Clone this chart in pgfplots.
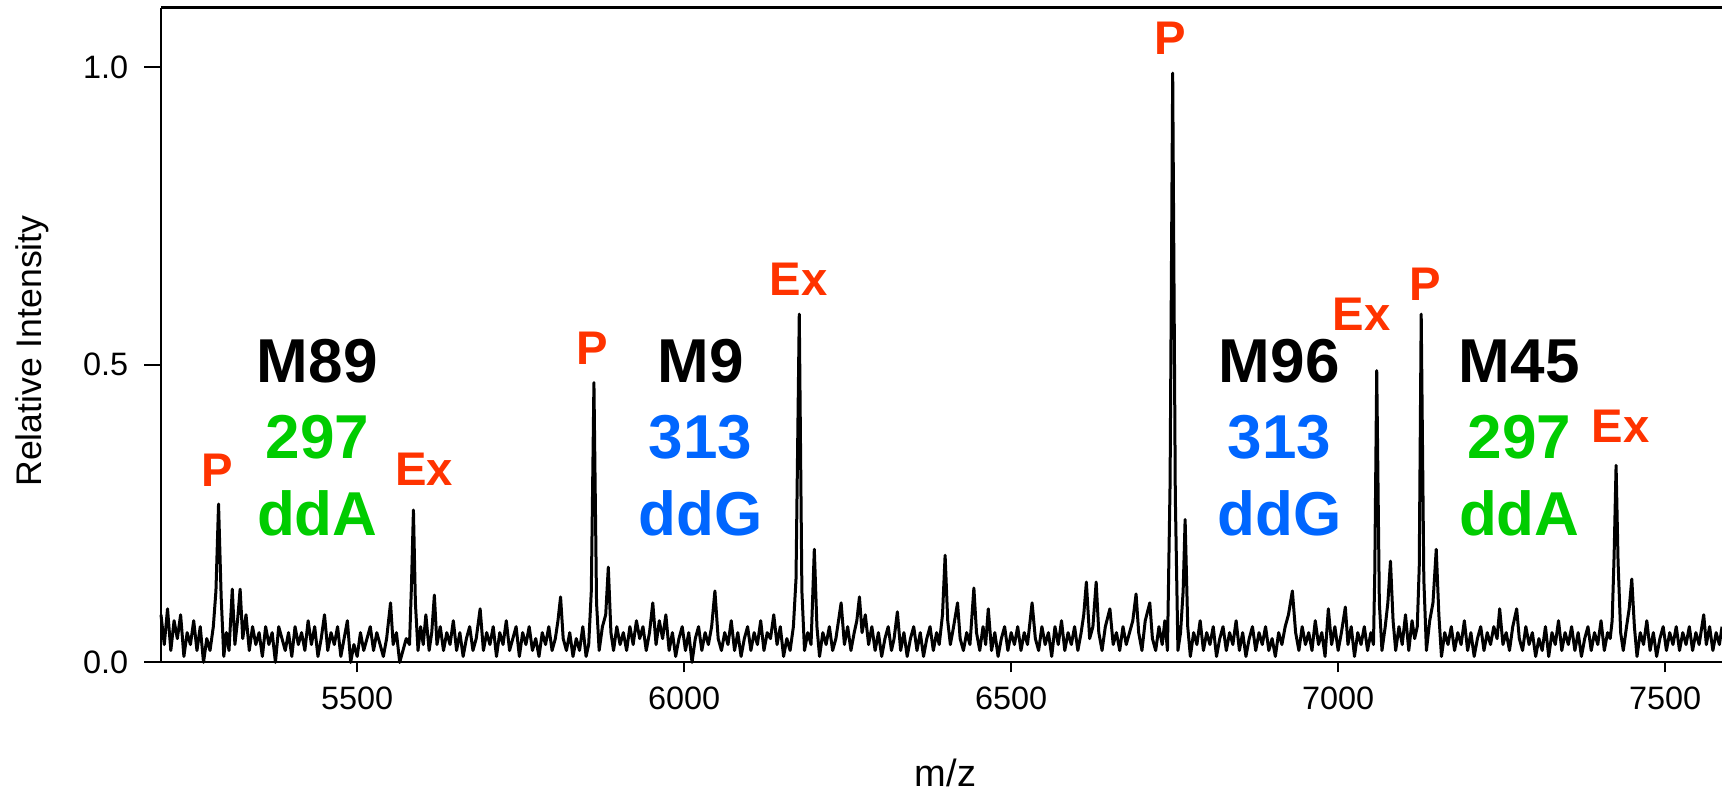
\documentclass[border=0pt]{standalone}
\usepackage{fontspec}
\setmainfont{Liberation Sans}
\usepackage{pgfplots}
\pgfplotsset{compat=1.18}
\definecolor{lblred}{RGB}{255,51,0}
\definecolor{lblgreen}{RGB}{0,204,0}
\definecolor{lblblue}{RGB}{0,102,255}
\newcommand{\biglab}{\bfseries\fontsize{15.5}{16}\selectfont}
\newcommand{\pel}{\bfseries\fontsize{11.8}{12}\selectfont}
\begin{document}
\begin{tikzpicture}
\begin{axis}[
  width=390.25pt, height=163.7pt, scale only axis,
  xmin=5200, xmax=7587, ymin=0, ymax=1.1,
  axis lines*=left,
  axis line style={line width=0.55pt, black},
  clip=false,
  xtick={5500,6000,6500,7000,7500},
  xticklabels={5500,6000,6500,7000,7500},
  ytick={0,0.5,1},
  yticklabels={0.0,0.5,1.0},
  tick align=outside,
  major tick length=2.5pt,
  ytick style={draw=none},
  xtick style={line width=0.55pt, black},
  xticklabel style={font=\fontsize{8.1}{9}\selectfont, anchor=north},
  yticklabel style={font=\fontsize{8.1}{9}\selectfont, anchor=east, xshift=-2.2pt},
]
\addplot[black, line width=0.75pt, line join=round, mark=none] coordinates {
(5200,0.08)(5205,0.03)(5210,0.09)(5215,0.02)(5220,0.07)(5225,0.04)(5230,0.08)(5235,0.01)(5240,0.05)(5245,0.03)
(5250,0.07)(5255,0.02)(5260,0.06)(5265,0.00)(5270,0.04)(5275,0.02)(5280,0.06)
(5284,0.12)(5288,0.266)(5292,0.11)(5296,0.01)(5300,0.05)(5304,0.02)(5309,0.123)(5313,0.03)(5317,0.07)(5321,0.123)
(5325,0.04)(5330,0.08)(5335,0.02)(5340,0.06)(5345,0.03)(5350,0.05)(5355,0.01)(5360,0.06)(5365,0.03)(5370,0.05)
(5375,0.00)(5380,0.06)(5385,0.04)(5390,0.02)(5395,0.05)(5400,0.01)(5405,0.06)(5410,0.03)(5415,0.05)(5420,0.02)
(5425,0.07)(5430,0.03)(5435,0.06)(5440,0.01)(5445,0.04)(5450,0.08)(5455,0.02)(5460,0.05)(5465,0.03)(5470,0.06)
(5475,0.01)(5480,0.04)(5485,0.07)(5490,0.00)(5495,0.03)(5500,0.01)(5505,0.05)(5510,0.02)(5515,0.04)(5520,0.06)
(5525,0.02)(5530,0.05)(5535,0.03)(5540,0.01)(5545,0.04)(5551,0.10)(5555,0.03)(5560,0.05)(5565,0.00)(5570,0.02)
(5575,0.04)(5580,0.03)(5583,0.13)(5586,0.256)(5589,0.10)(5593,0.02)(5597,0.06)(5601,0.03)(5605,0.08)(5610,0.02)
(5614,0.05)(5618,0.113)(5622,0.03)(5627,0.06)(5632,0.02)(5637,0.05)(5642,0.03)(5647,0.07)(5652,0.02)(5657,0.05)
(5662,0.01)(5667,0.04)(5672,0.06)(5677,0.02)(5682,0.04)(5688,0.09)(5693,0.02)(5698,0.05)(5703,0.03)(5708,0.06)
(5713,0.01)(5718,0.05)(5723,0.03)(5728,0.07)(5733,0.02)(5738,0.04)(5743,0.06)(5748,0.01)(5753,0.05)(5758,0.03)
(5763,0.06)(5768,0.02)(5773,0.04)(5778,0.01)(5783,0.05)(5788,0.03)(5793,0.06)(5798,0.02)(5803,0.04)(5807,0.07)
(5811,0.11)(5815,0.04)(5820,0.02)(5825,0.05)(5830,0.01)(5835,0.04)(5840,0.02)(5845,0.06)(5850,0.01)(5854,0.03)
(5858,0.12)(5862,0.47)(5866,0.10)(5870,0.02)(5875,0.06)(5880,0.08)(5884,0.16)(5888,0.05)(5892,0.02)(5897,0.06)
(5902,0.03)(5907,0.05)(5912,0.02)(5917,0.06)(5922,0.03)(5927,0.07)(5932,0.04)(5937,0.06)(5942,0.02)(5947,0.05)
(5952,0.10)(5957,0.03)(5962,0.07)(5967,0.04)(5972,0.08)(5977,0.02)(5982,0.05)(5987,0.01)(5992,0.04)(5997,0.06)
(6002,0.02)(6007,0.05)(6012,0.00)(6017,0.04)(6022,0.06)(6027,0.02)(6032,0.05)(6037,0.03)(6042,0.06)(6047,0.12)
(6052,0.04)(6057,0.02)(6062,0.05)(6067,0.03)(6072,0.07)(6077,0.02)(6082,0.05)(6087,0.01)(6092,0.04)(6097,0.06)
(6102,0.02)(6107,0.05)(6112,0.03)(6117,0.07)(6122,0.02)(6127,0.05)(6132,0.04)(6137,0.08)(6142,0.03)(6147,0.06)
(6152,0.01)(6157,0.04)(6162,0.02)(6167,0.06)(6171,0.14)(6176,0.585)(6180,0.12)(6184,0.02)(6189,0.05)(6194,0.03)
(6199,0.19)(6203,0.06)(6207,0.01)(6212,0.05)(6217,0.03)(6222,0.06)(6227,0.02)(6232,0.04)(6236,0.07)(6240,0.10)
(6245,0.03)(6250,0.06)(6255,0.02)(6260,0.05)(6264,0.07)(6268,0.11)(6272,0.05)(6277,0.08)(6282,0.03)(6287,0.06)
(6292,0.02)(6297,0.05)(6302,0.01)(6307,0.04)(6312,0.06)(6317,0.02)(6321,0.04)(6326,0.085)(6331,0.02)(6336,0.05)
(6341,0.01)(6346,0.04)(6351,0.06)(6356,0.02)(6361,0.05)(6366,0.01)(6371,0.04)(6376,0.06)(6381,0.02)(6386,0.05)
(6390,0.03)(6395,0.08)(6399,0.18)(6403,0.07)(6407,0.03)(6412,0.06)(6418,0.10)(6422,0.04)(6427,0.02)(6432,0.05)
(6437,0.03)(6443,0.125)(6447,0.05)(6452,0.02)(6457,0.06)(6461,0.03)(6465,0.09)(6470,0.02)(6475,0.05)(6480,0.01)
(6485,0.04)(6490,0.06)(6495,0.02)(6500,0.05)(6505,0.03)(6510,0.06)(6515,0.02)(6520,0.05)(6525,0.03)(6532,0.10)
(6537,0.04)(6542,0.02)(6547,0.06)(6552,0.03)(6557,0.05)(6562,0.01)(6567,0.06)(6572,0.03)(6577,0.07)(6582,0.02)
(6587,0.05)(6592,0.03)(6597,0.06)(6602,0.02)(6607,0.05)(6611,0.08)(6615,0.135)(6620,0.04)(6625,0.06)(6630,0.135)
(6634,0.05)(6639,0.02)(6644,0.06)(6651,0.09)(6656,0.03)(6661,0.05)(6666,0.02)(6671,0.06)(6676,0.03)(6681,0.05)
(6686,0.07)(6691,0.115)(6695,0.05)(6700,0.02)(6705,0.07)(6712,0.10)(6716,0.04)(6721,0.02)(6726,0.06)(6731,0.03)
(6735,0.07)(6739,0.02)(6743,0.30)(6747,0.99)(6751,0.28)(6755,0.02)(6759,0.05)(6763,0.12)(6766,0.24)(6770,0.06)
(6774,0.01)(6779,0.05)(6784,0.03)(6789,0.07)(6794,0.02)(6799,0.05)(6804,0.03)(6809,0.06)(6814,0.01)(6819,0.04)
(6824,0.06)(6829,0.02)(6834,0.05)(6839,0.03)(6844,0.07)(6849,0.02)(6854,0.05)(6859,0.01)(6864,0.04)(6869,0.06)
(6874,0.02)(6879,0.05)(6884,0.03)(6889,0.06)(6894,0.02)(6899,0.04)(6904,0.01)(6909,0.05)(6914,0.03)(6919,0.06)
(6924,0.08)(6930,0.12)(6935,0.05)(6940,0.02)(6945,0.06)(6950,0.03)(6955,0.05)(6960,0.02)(6965,0.07)(6970,0.03)
(6975,0.05)(6980,0.01)(6985,0.09)(6990,0.03)(6995,0.06)(7000,0.02)(7005,0.05)(7011,0.093)(7015,0.03)(7020,0.06)
(7025,0.01)(7030,0.05)(7035,0.03)(7040,0.06)(7045,0.02)(7050,0.05)(7054,0.03)(7056,0.15)(7059,0.49)(7063,0.10)
(7067,0.02)(7072,0.06)(7076,0.10)(7080,0.17)(7084,0.07)(7088,0.02)(7093,0.06)(7098,0.03)(7103,0.08)(7108,0.02)
(7113,0.07)(7117,0.04)(7121,0.06)(7124,0.16)(7127,0.585)(7131,0.14)(7135,0.02)(7140,0.07)(7145,0.10)(7150,0.19)
(7154,0.08)(7158,0.01)(7163,0.05)(7168,0.03)(7173,0.06)(7178,0.02)(7183,0.05)(7188,0.03)(7193,0.07)(7198,0.02)
(7203,0.05)(7208,0.01)(7213,0.04)(7218,0.06)(7223,0.02)(7228,0.05)(7233,0.03)(7238,0.06)(7243,0.04)(7247,0.09)
(7252,0.03)(7257,0.05)(7262,0.02)(7267,0.06)(7273,0.09)(7277,0.04)(7282,0.02)(7287,0.06)(7292,0.03)(7297,0.05)
(7302,0.01)(7307,0.04)(7312,0.02)(7317,0.06)(7322,0.01)(7327,0.05)(7332,0.03)(7337,0.07)(7342,0.02)(7347,0.05)
(7352,0.03)(7357,0.06)(7362,0.02)(7367,0.05)(7372,0.01)(7377,0.04)(7382,0.06)(7387,0.02)(7392,0.05)(7397,0.03)
(7402,0.07)(7407,0.02)(7412,0.05)(7416,0.04)(7419,0.07)(7422,0.18)(7425,0.331)(7428,0.17)(7432,0.05)(7436,0.02)
(7441,0.06)(7445,0.09)(7449,0.14)(7453,0.06)(7457,0.01)(7462,0.05)(7467,0.03)(7472,0.07)(7477,0.02)(7482,0.05)
(7487,0.01)(7492,0.04)(7497,0.06)(7502,0.02)(7507,0.05)(7512,0.03)(7517,0.06)(7522,0.02)(7527,0.05)(7532,0.03)
(7537,0.06)(7542,0.02)(7547,0.05)(7552,0.03)(7559,0.08)(7563,0.03)(7568,0.06)(7573,0.02)(7578,0.05)(7583,0.03)
(7587,0.06)
};
\coordinate (yt0) at (axis cs:5200,0);
\coordinate (yt5) at (axis cs:5200,0.5);
\coordinate (yt10) at (axis cs:5200,1);
% annotations
\node[text=lblred, font=\pel] at (axis cs:5286,0.323) {P};
\node[text=lblred, font=\pel] at (axis cs:5602,0.325) {Ex};
\node[text=lblred, font=\pel] at (axis cs:5859,0.527) {P};
\node[text=lblred, font=\pel] at (axis cs:6175,0.644) {Ex};
\node[text=lblred, font=\pel] at (axis cs:6744,1.048) {P};
\node[text=lblred, font=\pel] at (axis cs:7036,0.584) {Ex};
\node[text=lblred, font=\pel] at (axis cs:7133,0.636) {P};
\node[text=lblred, font=\pel] at (axis cs:7432,0.396) {Ex};
\node[text=black, font=\biglab] at (axis cs:5439,0.506) {M89};
\node[text=lblgreen, font=\biglab] at (axis cs:5439,0.379) {297};
\node[text=lblgreen, font=\biglab] at (axis cs:5439,0.251) {ddA};
\node[text=black, font=\biglab] at (axis cs:6025,0.506) {M9};
\node[text=lblblue, font=\biglab] at (axis cs:6025,0.379) {313};
\node[text=lblblue, font=\biglab] at (axis cs:6025,0.251) {ddG};
\node[text=black, font=\biglab] at (axis cs:6910,0.506) {M96};
\node[text=lblblue, font=\biglab] at (axis cs:6910,0.379) {313};
\node[text=lblblue, font=\biglab] at (axis cs:6910,0.251) {ddG};
\node[text=black, font=\biglab] at (axis cs:7277,0.506) {M45};
\node[text=lblgreen, font=\biglab] at (axis cs:7277,0.379) {297};
\node[text=lblgreen, font=\biglab] at (axis cs:7277,0.251) {ddA};
\end{axis}
\draw[line width=0.55pt] (yt0) -- ++(-4.25pt,0pt);
\draw[line width=0.55pt] (yt5) -- ++(-4.25pt,0pt);
\draw[line width=0.55pt] (yt10) -- ++(-4.25pt,0pt);
\draw[line width=0.55pt] (current axis.north west) -- (current axis.north east);
\node[rotate=90, anchor=base, font=\fontsize{8.9}{10}\selectfont] at ([xshift=-30pt,yshift=-4pt]current axis.west) {Relative Intensity};
\node[anchor=base, font=\fontsize{9.5}{11}\selectfont] at ([xshift=1pt,yshift=-31pt]current axis.south) {m/z};
\pgfresetboundingbox
\path ([xshift=-40.25pt,yshift=-31.9pt]current axis.south west) rectangle ([yshift=1.9pt]current axis.north east);
\end{tikzpicture}
\end{document}
